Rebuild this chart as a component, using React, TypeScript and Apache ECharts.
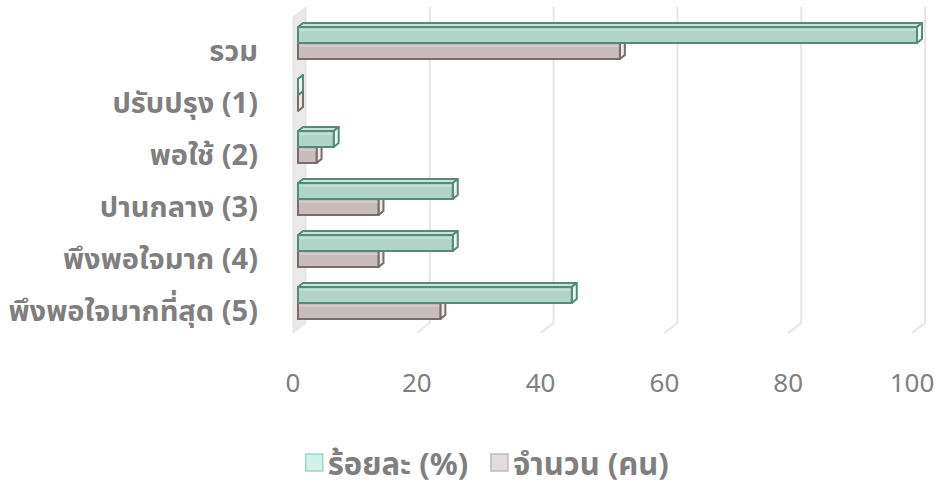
import React, { useEffect, useRef } from "react";
import * as echarts from "echarts";

const categories = [
  "รวม",
  "ปรับปรุง (1)",
  "พอใช้ (2)",
  "ปานกลาง (3)",
  "พึงพอใจมาก (4)",
  "พึงพอใจมากที่สุด (5)",
];
const percentValues = [100, 0, 5.77, 25, 25, 44.23];
const countValues = [52, 0, 3, 13, 13, 23];
const xTicks = [0, 20, 40, 60, 80, 100];
const seriesNames = ["ร้อยละ (%)", "จำนวน (คน)"];

const FONT = "'Noto Sans', 'Noto Sans Thai', Tahoma, sans-serif";

function bar3d(upper: boolean, c: { front: string; top: string; side: string; stroke: string }) {
  return (params: any, api: any) => {
    const v = api.value(0);
    const i = api.value(1);
    const p0 = api.coord([0, i]);
    const p1 = api.coord([v, i]);
    const div = p0[1] - 6;
    const h = 16;
    const dx = 5;
    const dy = -4;
    const sx = 5;
    const x0 = p0[0] + sx;
    const x1 = p1[0] + sx;
    const yTop = upper ? div - h : div;
    const yBot = yTop + h;
    const lw = 2;
    return {
      type: "group",
      children: [
        {
          type: "polygon",
          shape: { points: [[x0, yTop], [x0 + dx, yTop + dy], [x1 + dx, yTop + dy], [x1, yTop]] },
          style: { fill: c.top, stroke: c.stroke, lineWidth: lw, lineJoin: "round" },
        },
        {
          type: "polygon",
          shape: { points: [[x1, yTop], [x1 + dx, yTop + dy], [x1 + dx, yBot + dy], [x1, yBot]] },
          style: { fill: c.side, stroke: c.stroke, lineWidth: lw, lineJoin: "round" },
        },
        {
          type: "rect",
          shape: { x: x0, y: yTop, width: Math.max(0, x1 - x0), height: h },
          style: { fill: c.front, stroke: c.stroke, lineWidth: lw },
        },
        {
          type: "line",
          shape: { x1: x0 + 1, y1: yTop + 3, x2: Math.max(x0 + 1, x1 - 1), y2: yTop + 3 },
          style: { stroke: c.top, lineWidth: 1.5, opacity: 0.9 },
        },
      ],
    };
  };
}

export default function App() {
  const ref = useRef<HTMLDivElement>(null);
  useEffect(() => {
    if (!ref.current) return;
    const chart = echarts.init(ref.current, null, { renderer: "svg" });
    const green = { front: "#b1d4c9", top: "#c8e5dc", side: "#eaf6f2", stroke: "#55897a" };
    const gray = { front: "#c8bcbc", top: "#d8cfcf", side: "#eee8e8", stroke: "#786c6c" };
    chart.setOption({
      animation: false,
      backgroundColor: "#ffffff",
      grid: { left: 293, right: 33, top: 23, bottom: 150, containLabel: false },
      legend: {
        left: 300,
        top: 442,
        itemWidth: 17,
        itemHeight: 17,
        itemGap: 22,
        icon: "rect",
        textStyle: { fontSize: 31, fontWeight: "bold", color: "#7f7f7f", fontFamily: FONT },
        data: [
          { name: seriesNames[0], itemStyle: { color: "#d3f1e9", borderColor: "#9fd3c5", borderWidth: 1.5 } },
          { name: seriesNames[1], itemStyle: { color: "#e2dcdc", borderColor: "#c2b9b9", borderWidth: 1.5 } },
        ],
      },
      xAxis: {
        type: "value",
        min: 0,
        max: 100,
        interval: 20,
        axisLine: { show: false },
        axisTick: { show: false },
        splitLine: { show: false },
        axisLabel: { fontSize: 26, color: "#808080", margin: 34, fontFamily: FONT },
      },
      yAxis: {
        type: "category",
        inverse: true,
        data: categories,
        axisLine: { show: false },
        axisTick: { show: false },
        splitLine: { show: false },
        axisLabel: { fontSize: 29, fontWeight: "bold", color: "#7f7f7f", margin: 35, fontFamily: FONT },
      },
      series: [
        {
          type: "custom",
          silent: true,
          z: 1,
          data: xTicks.map((v) => [v, 0]),
          encode: { x: 0, y: 1 },
          renderItem: (params: any, api: any) => {
            const v = api.value(0);
            const x = api.coord([v, 0])[0];
            const bx = x + 13;
            const children: any[] = [];
            if (v === 0) {
              children.push({
                type: "polygon",
                shape: { points: [[x, 17], [bx, 7], [bx, 323], [x, 333]] },
                style: { fill: "#e9e9e9", stroke: "#e3e3e3", lineWidth: 1 },
              });
            } else {
              children.push({
                type: "polyline",
                shape: { points: [[bx, 7], [bx, 323], [x, 333]] },
                style: { fill: null, stroke: "#e6e6e6", lineWidth: 2 },
              });
            }
            return { type: "group", children };
          },
        },
        {
          name: seriesNames[1],
          type: "custom",
          z: 2,
          itemStyle: { color: "#e2dcdc" },
          data: countValues.map((v, i) => [v, i]),
          encode: { x: 0, y: 1 },
          renderItem: bar3d(false, gray),
        },
        {
          name: seriesNames[0],
          type: "custom",
          z: 3,
          itemStyle: { color: "#d3f1e9" },
          data: percentValues.map((v, i) => [v, i]),
          encode: { x: 0, y: 1 },
          renderItem: bar3d(true, green),
        },
      ],
    });
    return () => chart.dispose();
  }, []);
  return <div ref={ref} style={{ position: "absolute", left: 0, top: 0, width: 945, height: 485 }} />;
}
